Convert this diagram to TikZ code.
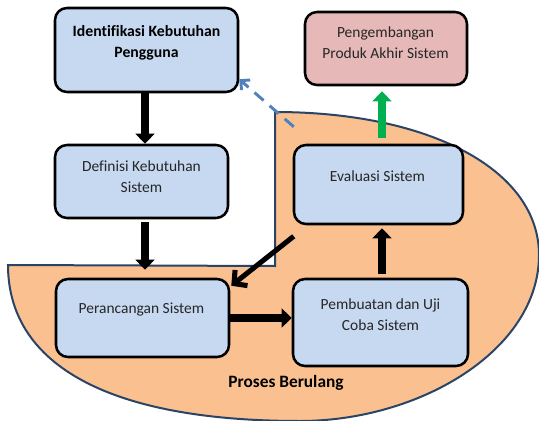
\documentclass[tikz,border=0pt]{standalone}
\usepackage{fontspec}
\setmainfont{Carlito}[Ligatures=NoCommon]
\usetikzlibrary{arrows.meta,calc}
\definecolor{boxblue}{HTML}{C6D9F1}
\definecolor{boxpink}{HTML}{E6B9B8}
\definecolor{orangefill}{HTML}{FAC090}
\definecolor{orangeline}{HTML}{2A4466}
\definecolor{dashblue}{HTML}{4F81BD}
\definecolor{arrowgreen}{HTML}{00B050}
\begin{document}
\begin{tikzpicture}[x=0.75pt,y=-0.75pt,
  procbox/.style={draw=black, line width=1.9pt, rounded corners=9pt, fill=boxblue, inner sep=0pt},
  lbl/.style={font=\fontsize{11.6pt}{15.75pt}\selectfont, align=center, text=black!85, inner sep=0pt},
  boldlbl/.style={lbl, font=\fontsize{11.8pt}{15.75pt}\selectfont\bfseries, text=black},
  bigarrow/.style={line width=6.3pt, -{Triangle[width=14pt,length=7.5pt]}},
  thinarrow/.style={line width=3.8pt, -{Straight Barb[length=7pt,width=15pt,line width=3.8pt]}},
  dasharrow/.style={draw=dashblue, line width=2.2pt, dash pattern=on 9pt off 6pt, -{Straight Barb[length=5pt,width=10pt,line width=2.2pt]}}
]
\useasboundingbox (0,0) rectangle (539,421);
% orange process region
\draw[fill=orangefill, draw=orangeline, line width=1.5pt]
  (8,265) -- (275,266) -- (275,112)
  .. controls (430,112) and (539,170) .. (539,255)
  .. controls (539,350) and (420,421) .. (300,421)
  .. controls (100,421) and (8,360) .. (8,265) -- cycle;
% boxes
\node[procbox, minimum width={183*0.75pt}, minimum height={84*0.75pt}] (b1) at (146.5,50) {};
\node[procbox, minimum width={173*0.75pt}, minimum height={73*0.75pt}] (b2) at (141.5,181.5) {};
\node[procbox, minimum width={173*0.75pt}, minimum height={78*0.75pt}] (b3) at (142.5,318) {};
\node[procbox, fill=boxpink, minimum width={162*0.75pt}, minimum height={73*0.75pt}] (b4) at (386,48.5) {};
\node[procbox, minimum width={169*0.75pt}, minimum height={79*0.75pt}] (b5) at (378.5,184.5) {};
\node[procbox, minimum width={175*0.75pt}, minimum height={87*0.75pt}] (b6) at (380.5,322.5) {};
% texts
\node[boldlbl] (t1) at (146.5,42.5) {Identifikasi Kebutuhan\\Pengguna};
\node[lbl] (t2) at (141.5,176.5) {Definisi Kebutuhan\\Sistem};
\node[lbl] (t3) at (141.5,310) {Perancangan Sistem};
\node[lbl] (t4) at (385.5,42.5) {Pengembangan\\Produk Akhir Sistem};
\node[lbl] (t5) at (377.5,176) {Evaluasi Sistem};
\node[lbl] (t6) at (380.5,315) {Pembuatan dan Uji\\Coba Sistem};
\node[boldlbl, font=\fontsize{13pt}{15.75pt}\selectfont\bfseries] (tp) at (286,383) {Proses Berulang};
% connectors
\draw[bigarrow] ($(b1.south)+(-1.5,0)$) -- ($(b2.north)+(3.5,0)$);
\draw[bigarrow] ($(b2.south)+(3.5,3)$) -- ($(b3.north)+(2.5,-8)$);
\draw[thinarrow] ($(b5.south west)+(1,11)$) -- ($(b3.north east)+(1,8)$);
\draw[bigarrow] (b3.east) -- (b3.east -| b6.west);
\draw[bigarrow] ($(b6.north)+(1.5,-4)$) -- ($(b5.south)+(3.5,3)$);
\draw[bigarrow, draw=arrowgreen] ($(b5.north)+(3.5,-6)$) -- ($(b4.south)+(-4,5)$);
\draw[dasharrow] ($(b5.north west)+(1,-17)$) -- ($(b1.south east)+(0,-14)$);
\end{tikzpicture}
\end{document}
